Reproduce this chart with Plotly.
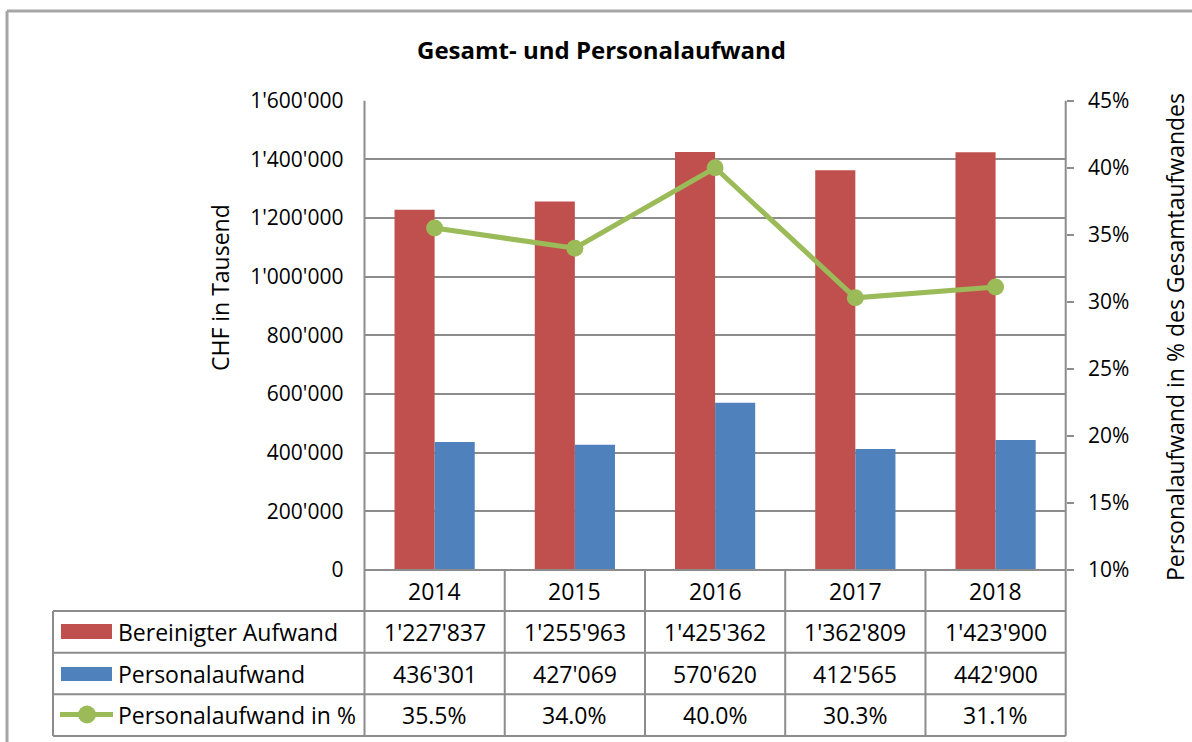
import plotly.graph_objects as go

years = ["2014", "2015", "2016", "2017", "2018"]
bereinigt = [1227837, 1255963, 1425362, 1362809, 1423900]
personal = [436301, 427069, 570620, 412565, 442900]
pct = [35.5, 34.0, 40.0, 30.3, 31.1]

series_names = ["Bereinigter Aufwand", "Personalaufwand", "Personalaufwand in %"]
title = "Gesamt- und Personalaufwand"
y_title = "CHF in Tausend"
y2_title = "Personalaufwand in % des Gesamtaufwandes"

RED = "#C0504D"
BLUE = "#4F81BD"
GREEN = "#9BBB59"
GRID = "#8C8C8C"
FONT = "Open Sans"

W, H = 1192, 742
def X(px):
    return px / W
def Y(py):
    return 1 - py / H

PL, PR, PT, PB = 364.5, 1065.7, 100.7, 570.0
ROWS = [570.0, 611.0, 652.7, 694.3, 736.0]
TL = 53.0

def fmt(v):
    return f"{v:,}".replace(",", "'")

fig = go.Figure()
fig.add_trace(go.Bar(x=years, y=bereinigt, name=series_names[0], marker_color=RED, marker_line_width=0))
fig.add_trace(go.Bar(x=years, y=personal, name=series_names[1], marker_color=BLUE, marker_line_width=0))
fig.add_trace(go.Scatter(x=years, y=[p / 100 for p in pct], name=series_names[2], yaxis="y2",
                         mode="lines+markers", line=dict(color=GREEN, width=5),
                         marker=dict(color=GREEN, size=17)))

shapes = []
line = dict(color=GRID, width=2)
shapes.append(dict(type="line", xref="paper", yref="paper", x0=X(PL), x1=X(PR), y0=Y(ROWS[0]), y1=Y(ROWS[0]), line=line))
for r in ROWS[1:]:
    shapes.append(dict(type="line", xref="paper", yref="paper", x0=X(TL), x1=X(PR), y0=Y(r), y1=Y(r), line=line))
shapes.append(dict(type="line", xref="paper", yref="paper", x0=X(TL), x1=X(TL), y0=Y(ROWS[1]), y1=Y(ROWS[-1]), line=line))
shapes.append(dict(type="line", xref="paper", yref="paper", x0=X(PL), x1=X(PL), y0=Y(PT), y1=Y(ROWS[-1]), line=line))
shapes.append(dict(type="line", xref="paper", yref="paper", x0=X(PR), x1=X(PR), y0=Y(PT), y1=Y(ROWS[-1]), line=line))
for i in range(len(years) - 1):
    shapes.append(dict(type="line", xref="x", yref="paper", x0=i + 0.5, x1=i + 0.5, y0=Y(ROWS[0]), y1=Y(ROWS[-1]), line=line))
# legend keys
shapes.append(dict(type="rect", xref="paper", yref="paper", x0=X(61), x1=X(112), y0=Y(624), y1=Y(639), fillcolor=RED, line_width=0))
shapes.append(dict(type="rect", xref="paper", yref="paper", x0=X(61), x1=X(112), y0=Y(667), y1=Y(681), fillcolor=BLUE, line_width=0))
shapes.append(dict(type="line", xref="paper", yref="paper", x0=X(60), x1=X(113), y0=Y(714.5), y1=Y(714.5), line=dict(color=GREEN, width=5)))
shapes.append(dict(type="circle", xref="paper", yref="paper", x0=X(78), x1=X(96), y0=Y(705.5), y1=Y(723.5), fillcolor=GREEN, line_width=0))
# outer frame
shapes.append(dict(type="line", xref="paper", yref="paper", x0=X(7), x1=X(7), y0=Y(11), y1=0, line=dict(color="#A6A6A6", width=3)))
shapes.append(dict(type="line", xref="paper", yref="paper", x0=X(7), x1=1, y0=Y(11), y1=Y(11), line=dict(color="#A6A6A6", width=3)))

ann = []
tf = dict(family=FONT, size=23, color="#000000")
def mid(a, b):
    return Y((a + b) / 2)
def A(**kw):
    d = dict(showarrow=False, xanchor="center", yanchor="middle", font=tf)
    d.update(kw)
    ann.append(d)
for i, yr in enumerate(years):
    A(x=i, xref="x", y=mid(ROWS[0], ROWS[1]), yref="paper", text=yr)
    A(x=i, xref="x", y=mid(ROWS[1], ROWS[2]), yref="paper", text=fmt(bereinigt[i]))
    A(x=i, xref="x", y=mid(ROWS[2], ROWS[3]), yref="paper", text=fmt(personal[i]))
    A(x=i, xref="x", y=mid(ROWS[3], ROWS[4]), yref="paper", text=f"{pct[i]:.1f}%")
for k, name in enumerate(series_names):
    A(x=X(116), xref="paper", xanchor="left", y=mid(ROWS[k + 1], ROWS[k + 2]), yref="paper", text=name)
A(x=X(601), y=Y(50), xref="paper", yref="paper", text=f"<b>{title}</b>",
  font=dict(family=FONT, size=24, color="#000"))
A(x=X(220), y=Y(288), xref="paper", yref="paper", text=y_title, textangle=-90)
A(x=X(1175), y=Y(337), xref="paper", yref="paper", text=y2_title, textangle=-90,
  font=dict(family=FONT, size=23, color="#000"))

fig.update_layout(
    width=W, height=H,
    margin=dict(l=0, r=0, t=0, b=0, pad=0),
    paper_bgcolor="white", plot_bgcolor="white",
    separators=".'",
    barmode="group", bargap=0.428, bargroupgap=0,
    showlegend=False,
    font=dict(family=FONT, color="#000"),
    xaxis=dict(domain=[X(PL), X(PR)], range=[-0.5, 4.5], showticklabels=False, showgrid=False,
               zeroline=False, showline=False, ticks="", automargin=False),
    yaxis=dict(domain=[Y(PB), Y(PT)], range=[0, 1600000], dtick=200000, tickformat=",d",
               showgrid=True, gridcolor=GRID, gridwidth=2, zeroline=False, showline=False,
               ticks="", ticklabelstandoff=20, automargin=False,
               tickfont=dict(family=FONT, size=21, color="#000")),
    yaxis2=dict(overlaying="y", side="right", range=[0.10, 0.45], dtick=0.05, tickformat=".0%",
                showgrid=False, zeroline=False, showline=False, ticks="outside", ticklen=7,
                tickwidth=2, tickcolor=GRID, ticklabelstandoff=10, automargin=False,
                tickfont=dict(family=FONT, size=21, color="#000")),
    shapes=shapes, annotations=ann,
)

fig.write_html("out.html", config={"displayModeBar": False},
               post_script="document.body.style.margin='0';")
